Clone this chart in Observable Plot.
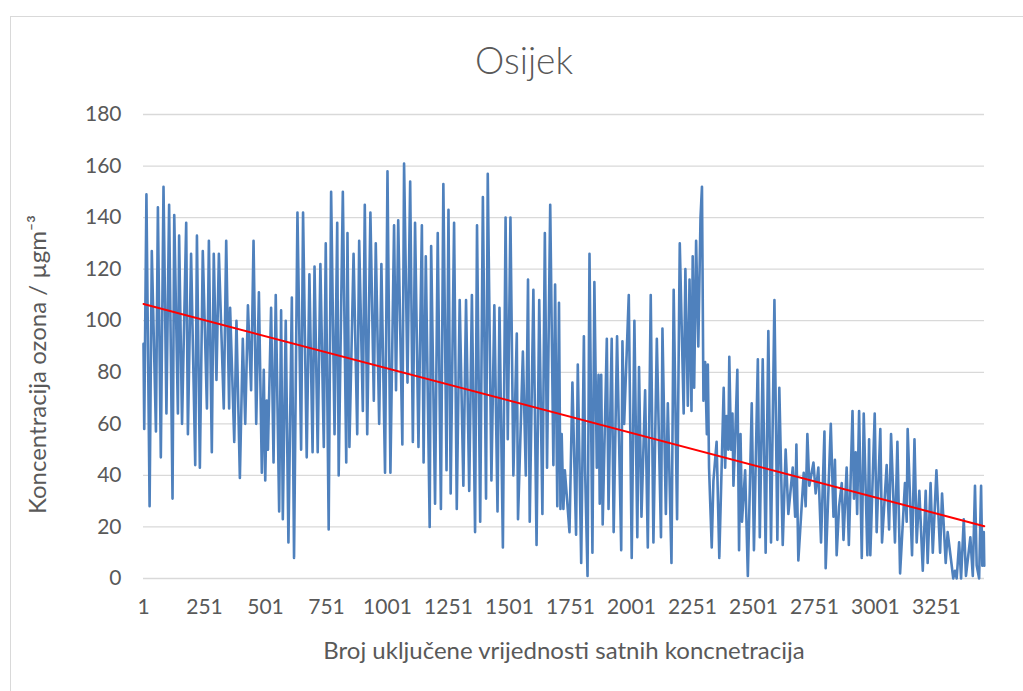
<!DOCTYPE html>
<html>
<head>
<meta charset="utf-8">
<script src="https://cdn.jsdelivr.net/npm/d3@7"></script>
<script src="https://cdn.jsdelivr.net/npm/@observablehq/plot@0.6"></script>
<style>
  html, body { margin: 0; padding: 0; background: #ffffff; }
  #wrap { position: relative; width: 1023px; height: 691px; overflow: hidden; }
  #border { position: absolute; left: 10px; top: 16px; width: 1030px; height: 700px; border: 1px solid #d9d9d9; box-sizing: border-box; }
  #chart { position: absolute; left: 0; top: 0; }
</style>
</head>
<body>
<div id="wrap"><div id="border"></div><div id="chart"></div></div>
<script>
// Hourly ozone readings (hour index, µg/m³): local peaks and troughs
const ozoneReadings = [
  [1,91],[4,58],[13,149],[26,28],[35,127],[52,57],[60,144],[72,47],[83,152],[95,64],[106,145],[120,31],
  [127,141],[142,64],[147,133],[159,60],[176,138],[183,56],[196,126],[213,44],[220,133],[232,43],[244,127],
  [261,66],[269,131],[281,49],[289,126],[300,77],[310,126],[330,66],[340,131],[352,66],[356,105],[373,53],
  [382,100],[396,39],[408,93],[418,60],[429,106],[442,73],[452,131],[463,60],[474,111],[486,41],[494,81],
  [500,38],[506,69],[511,50],[524,105],[534,45],[543,110],[557,26],[565,104],[572,23],
  [584,100],[595,14],[609,109],[618,8],[632,142],[647,50],[655,142],[670,47],[681,118],[694,49],[702,121],
  [715,49],[726,122],[740,51],[748,130],[760,19],[770,150],[784,56],[795,138],[801,40],[818,150],[832,45],
  [837,134],[845,51],[862,126],[877,56],[885,131],[900,65],[908,145],[918,56],[931,142],[945,69],[953,130],
  [967,60],[976,122],[991,41],[1001,158],[1013,41],[1028,137],[1036,73],[1045,139],[1062,52],[1069,161],
  [1083,76],[1094,154],[1105,53],[1114,138],[1128,51],[1142,137],
  [1149,45],[1158,125],[1174,20],[1180,129],[1196,29],[1207,134],[1220,27],[1230,153],[1243,42],[1251,143],
  [1260,33],[1274,138],[1285,27],[1297,108],[1312,36],[1323,108],[1336,34],[1347,110],[1360,18],[1368,137],
  [1381,22],[1392,148],[1405,31],[1412,157],[1427,38],[1439,106],[1452,26],[1460,105],[1474,12],[1485,140],
  [1494,54],[1505,140],[1517,40],[1531,95],[1536,23],[1556,88],[1568,40],[1577,116],[1584,22],[1599,112],
  [1612,13],[1623,108],[1636,25],[1646,134],[1655,43],[1668,145],[1681,44],[1688,114],[1697,28],
  [1704,107],[1710,27],[1715,56],[1722,27],[1728,42],[1747,18],[1759,76],[1774,17],[1781,83],[1795,6],
  [1806,94],[1811,42],[1821,1],[1829,126],[1841,10],[1849,115],[1859,43],[1866,79],[1871,29],[1877,79],
  [1883,21],[1900,93],[1907,27],[1920,93],[1928,18],[1942,94],[1959,11],[1964,92],[1971,60],[1990,110],
  [2002,8],[2013,100],[2025,16],[2032,82],[2042,24],[2057,73],[2068,12],[2080,110],[2091,14],[2105,93],
  [2122,16],[2128,97],[2142,25],[2150,68],[2165,6],[2174,112],[2188,23],[2199,130],[2215,64],[2222,120],
  [2232,67],[2239,116],[2247,65],[2252,125],[2258,74],[2266,131],[2275,90],[2284,140],[2290,152],
  [2296,69],[2303,84],[2310,56],[2314,83],[2319,43],[2330,12],[2337,38],[2350,53],[2361,8],[2379,74],
  [2385,43],[2391,63],[2398,50],[2402,86],[2409,50],[2415,64],[2419,36],[2426,54],[2435,81],[2442,11],
  [2448,56],[2454,22],[2467,42],[2478,1],[2494,68],[2503,11],[2519,85],[2527,16],[2539,85],[2551,10],
  [2562,96],[2573,14],[2587,108],[2599,15],[2607,74],[2621,13],[2633,50],[2644,25],[2662,43],[2672,24],
  [2677,52],[2685,7],[2707,41],[2715,28],[2722,56],[2730,36],[2747,45],[2756,33],[2767,43],[2778,14],
  [2792,57],[2797,4],[2818,60],[2829,24],[2835,46],[2842,9],[2852,28],
  [2863,37],[2870,15],[2883,43],[2892,13],[2907,65],[2913,31],[2920,49],[2926,25],[2934,65],[2945,8],
  [2953,64],[2968,9],[2975,54],[2980,9],[2998,64],[3006,18],[3021,58],[3028,14],[3047,44],[3057,19],
  [3065,56],[3081,14],[3091,53],[3102,2],[3122,37],[3129,22],[3133,58],[3151,9],[3161,54],[3170,14],
  [3181,34],[3195,3],[3207,34],[3215,6],[3227,37],[3236,10],[3251,42],[3266,10],[3274,33],[3289,6],
  [3297,18],[3320,0],[3327,3],[3334,0],[3344,14],[3352,0],[3363,23],[3372,1],[3390,16],[3400,1],
  [3409,36],[3416,5],[3426,0],[3434,36],[3439,5],[3445,18],[3447,5]
];
// Linear trend line end values
const trendReadings = [[1,106.5],[3447,20.3]];
const xTickValues = [1,251,501,751,1001,1251,1501,1751,2001,2251,2501,2751,3001,3251];
const yTickValues = [0,20,40,60,80,100,120,140,160,180];
const chartTitle = "Osijek";
const xTitle = "Broj uključene vrijednosti satnih koncnetracija";
const yTitle = "Koncentracija ozona / µgm⁻³";

const series = ozoneReadings.map(([h, v]) => ({h, v}));
const trend = trendReadings.map(([h, v]) => ({h, v}));
const grey = "#595959";
const font = "Lato, 'Open Sans', sans-serif";

const chart = Plot.plot({
  width: 1023,
  height: 691,
  marginLeft: 143,
  marginRight: 39,
  marginTop: 114,
  marginBottom: 113,
  style: {fontFamily: font, color: grey, background: "transparent", overflow: "visible"},
  x: {domain: [1, 3448]},
  y: {domain: [0, 180]},
  marks: [
    Plot.gridY(yTickValues, {stroke: "#d9d9d9", strokeOpacity: 1, strokeWidth: 1.3}),
    Plot.axisY(yTickValues, {tickSize: 0, tickPadding: 22, fontSize: 21, label: null, fill: grey}),
    Plot.axisX(xTickValues, {tickSize: 0, tickPadding: 21, fontSize: 21, label: null, fill: grey, tickFormat: d => String(d)}),
    Plot.line(series, {x: "h", y: "v", stroke: "#4f81bd", strokeWidth: 2.6, strokeLinejoin: "round"}),
    Plot.line(trend, {x: "h", y: "v", stroke: "#ff0000", strokeWidth: 2}),
    Plot.text([chartTitle], {frameAnchor: "top", lineAnchor: "middle", dx: -40, dy: -52, fontSize: 37, fontWeight: 300, fill: grey}),
    Plot.text([xTitle], {frameAnchor: "bottom", lineAnchor: "middle", textAnchor: "middle", dy: 73, fontSize: 24, fill: grey}),
    Plot.text([yTitle], {frameAnchor: "left", lineAnchor: "middle", textAnchor: "middle", dx: -105, dy: 18, rotate: -90, fontSize: 24, fill: grey})
  ]
});
document.getElementById("chart").appendChild(chart);
</script>
</body>
</html>
